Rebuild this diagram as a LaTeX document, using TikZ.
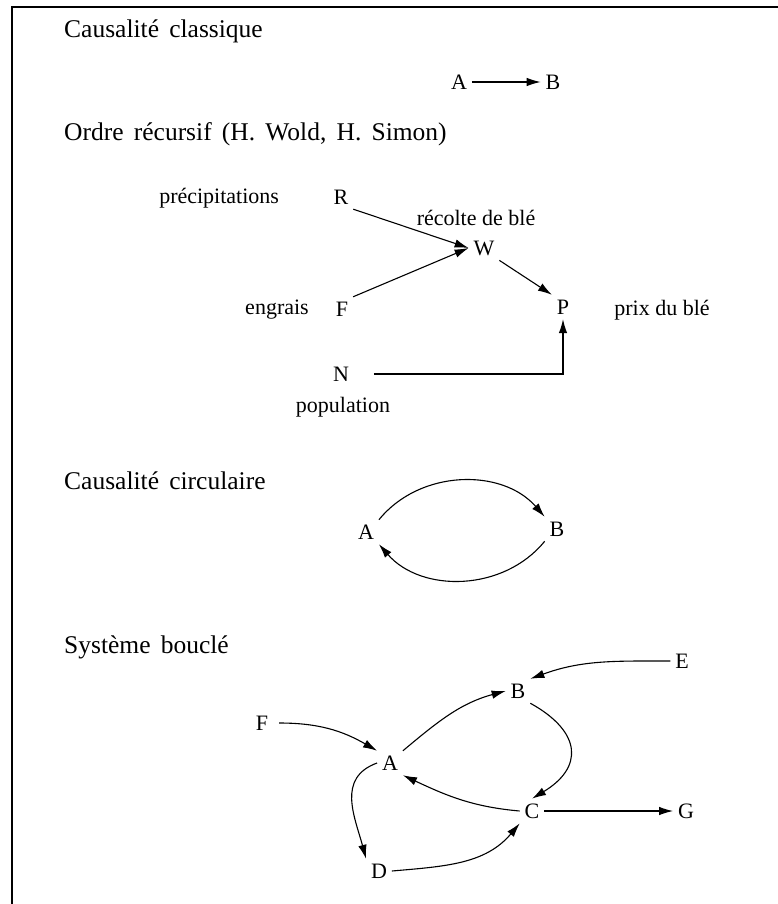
\documentclass[tikz,border=0pt]{standalone}
\usepackage{fontspec}
\setmainfont{Liberation Serif}
\newfontfamily\headfont[WordSpace=1.6]{Liberation Serif}
\usetikzlibrary{arrows.meta}
\begin{document}
\begin{tikzpicture}[x=1pt,y=-1pt,
  lbl/.style={font=\fontsize{22}{25}\selectfont, inner sep=2pt, outer sep=3pt},
  head/.style={font=\headfont\fontsize{25.5}{28}\selectfont, inner sep=2pt, anchor=west},
  arr/.style={line width=1.1pt, -{Latex[length=14pt,width=8.5pt]}}]
\useasboundingbox (0,0) rectangle (778,904);
\draw[line width=1.3pt] (12,904) -- (12,7) -- (778,7);

% Causalite classique
\node[head] (h1) at (62,31) {Causalité classique};
\node[lbl] (a0) at (459,82) {A};
\node[lbl] (b0) at (553,82) {B};
\draw[arr] (a0) -- (b0);

% Ordre recursif
\node[head] (h2) at (62,134) {Ordre récursif (H. Wold, H. Simon)};
\node[lbl, anchor=east] (prec) at (284,198) {précipitations};
\node[lbl] (R) at (341,197) {R};
\node[lbl] (recolte) at (476,218) {récolte de blé};
\node[lbl] (W) at (484,248) {W};
\node[lbl] (engr) at (277,310) {engrais};
\node[lbl] (F) at (342,309) {F};
\node[lbl] (P) at (563,307) {P};
\node[lbl] (prix) at (662,310) {prix du blé};
\node[lbl] (N) at (341,374) {N};
\node[lbl] (pop) at (343,407) {population};
\draw[arr] (R.south east) -- (W.west);
\draw[arr] (F.north east) -- (W.west);
\draw[arr] (W.south east) -- (P.north west);
\draw[arr] (N.east) ++(20,0) coordinate (n0) -- (n0 -| P) -- (P.south);

% Causalite circulaire
\node[head] (h3) at (62,481) {Causalité circulaire};
\node[lbl] (ca) at (366,532) {A};
\node[lbl] (cb) at (557,529) {B};
\draw[arr] (ca.north east) to[bend left=50] (cb.north west);
\draw[arr] (cb.south west) to[bend left=50] (ca.south east);

% Systeme boucle
\node[head] (h4) at (62,647) {Système bouclé};
\node[lbl] (sF) at (262,723) {F};
\node[lbl] (sA) at (390,763) {A};
\node[lbl] (sB) at (518,691) {B};
\node[lbl] (sE) at (682,661) {E};
\node[lbl] (sC) at (532,811) {C};
\node[lbl] (sG) at (686,811) {G};
\node[lbl] (sD) at (379,871) {D};
\draw[arr] (sF.east) ++(6,0) to[out=0,in=150] (sA.north west);
\draw[arr] (sA.north east) to[out=40,in=195] (sB.west);
\draw[arr] (sE.west) to[out=180,in=20] (sB.north east);
\draw[arr] (sB.south east) to[bend left=60, looseness=1.6] (sC.north);
\draw[arr] (sC.west) to[out=175,in=-25] (sA.south east);
\draw[arr] (sA.west) to[out=200,in=105,looseness=1.15] (sD.north west);
\draw[arr] (sD.east) to[out=5,in=-130] (sC.south west);
\draw[arr] (sC.east) -- (sG.west);
\end{tikzpicture}
\end{document}
